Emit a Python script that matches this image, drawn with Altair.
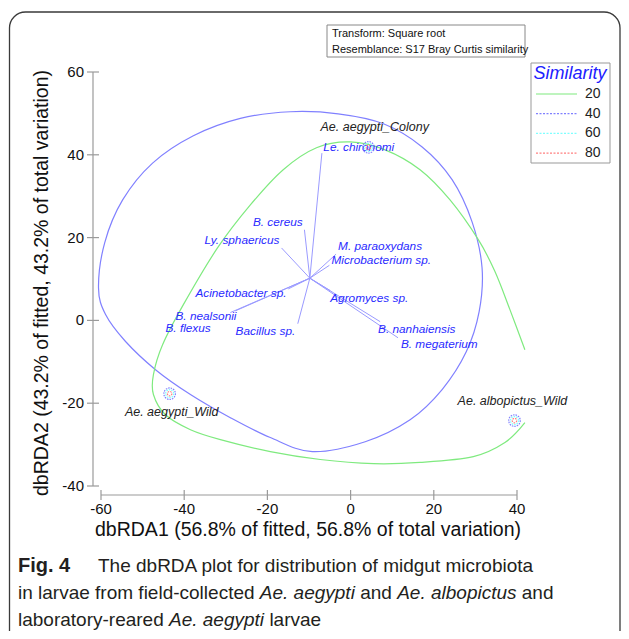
import altair as alt
import pandas as pd

# ---------------- data ----------------
x_ticks = [-60, -40, -20, 0, 20, 40]
y_ticks = [-40, -20, 0, 20, 40, 60]

sample_names = ["Ae. aegypti_Colony", "Ae. aegypti_Wild", "Ae. albopictus_Wild"]
sample_x = [4.3, -43.5, 39.4]
sample_y = [41.8, -17.7, -24.2]
sample_label_x = [5.8, -43.0, 38.9]
sample_label_y = [46.7, -22.1, -19.5]

vector_origin = (-9.8, 10.2)
vector_names = ["Le. chironomi", "B. cereus", "Ly. sphaericus", "M. paraoxydans",
                "Microbacterium sp.", "Acinetobacter sp.", "B. nealsonii", "B. flexus",
                "Bacillus sp.", "Agromyces sp.", "B. nanhaiensis", "B. megaterium"]
vector_x = [-6.9, -11.1, -16.6, -3.5, -5.1, -15.0, -27.7, -28.9, -12.7, -4.9, 7.1, 11.4]
vector_y = [40.4, 21.9, 17.5, 16.0, 13.3, 7.6, 2.3, 1.9, -0.8, 7.2, -0.3, -4.2]
vlabel_x = [-6.55, -17.5, -17.1, -3.0, -4.6, -15.4, -42.1, -44.5, -13.3, -4.9, 6.6, 12.1]
vlabel_y = [41.9, 23.8, 19.3, 18.0, 14.6, 6.6, 1.1, -1.9, -2.5, 5.5, -2.1, -5.6]
vlabel_align = ["left", "center", "right", "left", "left", "right", "left", "left",
                "right", "left", "left", "left"]

# 20 % similarity contour (open, clipped at right edge)
green_x = [41.9, 38.3, 34.7, 30.7, 23.9, 16.7, 8.3, -0.1, -8.2, -16.2, -24.1, -32.0,
           -40.2, -45.2, -47.4, -47.4, -44.5, -38.5, -31.3, -19.3, -7.3, 5.5, 16.7,
           29.5, 37.1, 41.9]
green_y = [-7.1, 2.6, 11.8, 19.5, 29.1, 36.4, 41.2, 43.1, 41.7, 36.4, 27.9, 17.5,
           3.8, -5.9, -13.1, -17.9, -22.8, -26.4, -28.8, -31.7, -33.6, -34.6, -34.3,
           -32.9, -29.5, -24.7]

# 40 % similarity contour (closed)
blue_x = [-60.6, -59.1, -54.8, -47.6, -37.8, -26.5, -14.5, -3.0, 7.9, 17.2, 24.4, 29.2,
          31.6, 30.9, 27.8, 22.0, 14.3, 3.5, -9.2, -19.3, -28.9, -38.5, -46.9, -54.1,
          -58.9]
blue_y = [7.9, 18.8, 29.1, 38.0, 44.6, 48.8, 50.4, 49.9, 47.5, 41.9, 34.0, 23.8,
          12.7, 2.1, -7.6, -16.7, -24.0, -29.3, -31.7, -28.3, -23.5, -17.9, -11.9,
          -5.1, 1.4]

legend_levels = ["20", "40", "60", "80"]
legend_colors = ["#7fea7f", "#8080ff", "#7fffff", "#ff8080"]
legend_dashed = [False, True, True, True]
ring_sizes = [0, 133, 64, 20]

x_title = "dbRDA1 (56.8% of fitted, 56.8% of total variation)"
y_title = "dbRDA2 (43.2% of fitted, 43.2% of total variation)"
info_lines = ["Transform: Square root", "Resemblance: S17 Bray Curtis similarity"]

# ---------------- layout ----------------
W, H = 416, 414
PAD = {"left": 93, "top": 64, "right": 104, "bottom": 145}
FONT = "Liberation Sans"
xs = alt.Scale(domain=[-60, 40], nice=False, zero=False)
ys = alt.Scale(domain=[-40, 60], nice=False, zero=False)
one = pd.DataFrame({"k": [0]})


def X(f):
    return alt.X(f, type="quantitative", scale=xs, axis=None)


def Y(f):
    return alt.Y(f, type="quantitative", scale=ys, axis=None)


def deco_text(txt, x, y, **kw):
    return alt.Chart(one).mark_text(text=txt, **kw).encode(x=alt.value(x), y=alt.value(y))


def deco_rect(x, x2, y, y2, **kw):
    return alt.Chart(one).mark_rect(**kw).encode(
        x=alt.value(x), x2=alt.value(x2), y=alt.value(y), y2=alt.value(y2))


layers = []

# outer rounded frame
layers.append(deco_rect(-91.5, 519, -60, 590, cornerRadius=16, fill="white", fillOpacity=0,
                        stroke="#3a3a3a", strokeWidth=1.3))

# info box
layers.append(deco_rect(226, 424, -47, -15, fill="white", fillOpacity=0, stroke="#888",
                        strokeWidth=1))
for i, t in enumerate(info_lines):
    layers.append(deco_text(t, 231, -38 + 16 * i, font=FONT, fontSize=11, align="left",
                            baseline="middle", color="#111"))

# legend
layers.append(deco_rect(430, 509, -9, 91, fill="white", fillOpacity=0, stroke="#999",
                        strokeWidth=1))
layers.append(deco_text("Similarity", 469, 2, font=FONT, fontSize=18, fontStyle="italic",
                        align="center", baseline="middle", color="#2020ff"))
for i, (lev, col, dsh) in enumerate(zip(legend_levels, legend_colors, legend_dashed)):
    yy = 22 + 19.7 * i
    kw = {"strokeDash": [2, 1.5]} if dsh else {}
    layers.append(alt.Chart(one).mark_rule(color=col, strokeWidth=1.2, **kw).encode(
        x=alt.value(435), x2=alt.value(476), y=alt.value(yy)))
    layers.append(deco_text(lev, 484, yy, font=FONT, fontSize=14, align="left",
                            baseline="middle", color="#222"))

# axes (detached, crossing ticks)
xt = pd.DataFrame({"v": x_ticks, "lab": [str(v) for v in x_ticks]})
yt = pd.DataFrame({"v": y_ticks, "lab": [str(v) for v in y_ticks]})
xa = pd.DataFrame({"a": [x_ticks[0]], "b": [x_ticks[-1]]})
ya = pd.DataFrame({"a": [y_ticks[0]], "b": [y_ticks[-1]]})
AX = "#9a9a9a"
layers.append(alt.Chart(xa).mark_rule(color=AX, strokeWidth=1.2).encode(
    x=X("a"), x2="b", y=alt.value(H + 9)))
layers.append(alt.Chart(xt).mark_rule(color=AX, strokeWidth=1.2).encode(
    x=X("v"), y=alt.value(H + 4), y2=alt.value(H + 14)))
layers.append(alt.Chart(xt).mark_text(font=FONT, fontSize=15, baseline="middle",
                                      color="#111").encode(
    x=X("v"), y=alt.value(H + 23), text="lab:N"))
layers.append(alt.Chart(ya).mark_rule(color=AX, strokeWidth=1.2).encode(
    y=Y("a"), y2="b", x=alt.value(-8)))
layers.append(alt.Chart(yt).mark_rule(color=AX, strokeWidth=1.2).encode(
    y=Y("v"), x=alt.value(-14), x2=alt.value(-2)))
layers.append(alt.Chart(yt).mark_text(font=FONT, fontSize=15, baseline="middle", align="right",
                                      color="#111").encode(
    y=Y("v"), x=alt.value(-17), text="lab:N"))
layers.append(deco_text(x_title, 207, 458, font=FONT, fontSize=19.5, align="center",
                        baseline="middle", color="#111"))
layers.append(deco_text(y_title, -59, 211, font=FONT, fontSize=19.5, align="center",
                        baseline="middle", angle=270, color="#111"))

# contours
gdf = pd.DataFrame({"x": green_x, "y": green_y, "i": range(len(green_x))})
bdf = pd.DataFrame({"x": blue_x, "y": blue_y, "i": range(len(blue_x))})
layers.append(alt.Chart(bdf).mark_line(interpolate="cardinal-closed", color="#8080ff",
                                       strokeWidth=1.2).encode(
    x=X("x"), y=Y("y"), order="i:Q"))
layers.append(alt.Chart(gdf).mark_line(interpolate="cardinal", color="#7fea7f",
                                       strokeWidth=1.2).encode(
    x=X("x"), y=Y("y"), order="i:Q"))

# vectors
vdf = pd.DataFrame({"name": vector_names, "x": vector_x, "y": vector_y,
                    "x0": [vector_origin[0]] * len(vector_names),
                    "y0": [vector_origin[1]] * len(vector_names),
                    "lx": vlabel_x, "ly": vlabel_y, "al": vlabel_align})
layers.append(alt.Chart(vdf).mark_rule(color="#9a9aff", strokeWidth=1).encode(
    x=X("x0"), y=Y("y0"), x2="x", y2="y"))
for al in ["left", "center", "right"]:
    layers.append(alt.Chart(vdf).transform_filter(alt.datum.al == al).mark_text(
        font=FONT, fontSize=11.8, fontStyle="italic", align=al, baseline="middle",
        color="#2a2aff").encode(x=X("lx"), y=Y("ly"), text="name:N"))

# samples with similarity rings
sdf = pd.DataFrame({"name": sample_names, "x": sample_x, "y": sample_y,
                    "lx": sample_label_x, "ly": sample_label_y})
for col, sz in zip(legend_colors[1:], ring_sizes[1:]):
    layers.append(alt.Chart(sdf).mark_point(shape="circle", filled=False, size=sz, color=col,
                                            strokeWidth=1.2, strokeDash=[1.5, 1],
                                            opacity=1).encode(x=X("x"), y=Y("y")))
layers.append(alt.Chart(sdf).mark_text(font=FONT, fontSize=12.5, fontStyle="italic",
                                       align="center", baseline="middle",
                                       color="#222").encode(
    x=X("lx"), y=Y("ly"), text="name:N"))

# caption
CAP = "#231f20"
CS = 19
cap = [
    ("Fig. 4", -83, 494, "bold", "normal", 20),
    ("The dbRDA plot for distribution of midgut microbiota", -3, 494, "normal", "normal", CS),
    ("in larvae from field-collected", -83, 521, "normal", "normal", CS),
    ("Ae. aegypti", 158.8, 521, "normal", "italic", CS),
    ("and", 259.2, 521, "normal", "normal", CS),
    ("Ae. albopictus", 296.2, 521, "normal", "italic", CS),
    ("and", 420.8, 521, "normal", "normal", CS),
    ("laboratory-reared", -83, 548, "normal", "normal", CS),
    ("Ae. aegypti", 68, 548, "normal", "italic", CS),
    ("larvae", 168.4, 548, "normal", "normal", CS),
]
for t, x, y, fw, fs, sz in cap:
    layers.append(deco_text(t, x, y, font=FONT, fontSize=sz, fontWeight=fw, fontStyle=fs,
                            align="left", baseline="middle", color=CAP))

chart = alt.layer(*layers).properties(
    width=W, height=H, padding=PAD, autosize=alt.AutoSizeParams(type="none"),
    background="white"
).configure_view(stroke=None)

chart.save("out.html", embed_options={"renderer": "svg", "actions": False})
